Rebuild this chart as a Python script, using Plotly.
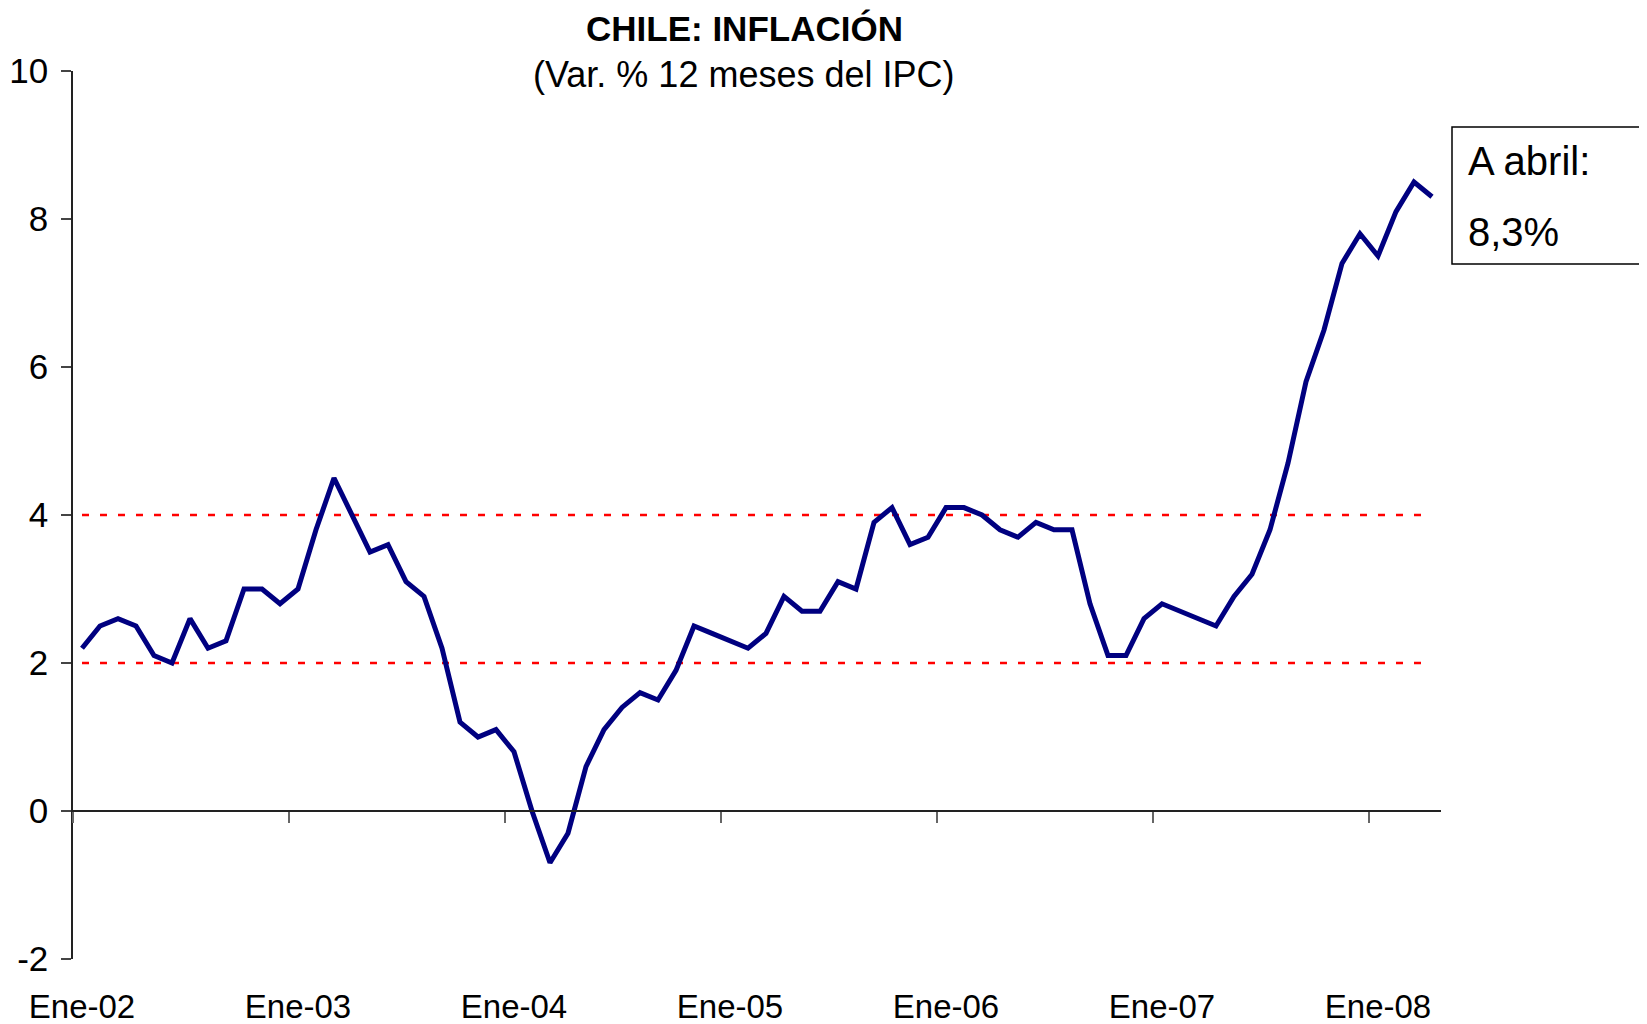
import plotly.graph_objects as go

# categorias mensuales Ene-02 .. Abr-08
meses = ['Ene', 'Feb', 'Mar', 'Abr', 'May', 'Jun', 'Jul', 'Ago', 'Sep', 'Oct', 'Nov', 'Dic']
anios = ['02', '03', '04', '05', '06', '07', '08']
meses_largo = ['enero', 'febrero', 'marzo', 'abril', 'mayo', 'junio', 'julio',
               'agosto', 'septiembre', 'octubre', 'noviembre', 'diciembre']

# Var. % 12 meses del IPC
ipc = [2.2, 2.5, 2.6, 2.5, 2.1, 2.0, 2.6, 2.2, 2.3, 3.0, 3.0, 2.8,
       3.0, 3.8, 4.5, 4.0, 3.5, 3.6, 3.1, 2.9, 2.2, 1.2, 1.0, 1.1,
       0.8, 0.0, -0.7, -0.3, 0.6, 1.1, 1.4, 1.6, 1.5, 1.9, 2.5, 2.4,
       2.3, 2.2, 2.4, 2.9, 2.7, 2.7, 3.1, 3.0, 3.9, 4.1, 3.6, 3.7,
       4.1, 4.1, 4.0, 3.8, 3.7, 3.9, 3.8, 3.8, 2.8, 2.1, 2.1, 2.6,
       2.8, 2.7, 2.6, 2.5, 2.9, 3.2, 3.8, 4.7, 5.8, 6.5, 7.4, 7.8,
       7.5, 8.1, 8.5, 8.3]

# rango meta del Banco Central
meta_inf = 2
meta_sup = 4

y_ticks = [-2, 0, 2, 4, 6, 8, 10]

etiquetas = [m + '-' + a for a in anios for m in meses][:len(ipc)]
x = list(range(len(ipc)))
ene_pos = [i for i, e in enumerate(etiquetas) if e.startswith('Ene')]
ene_txt = [etiquetas[i] for i in ene_pos]

FONT = 'Arial, Liberation Sans, sans-serif'

# plot area in page pixels (page body adds a small offset)
L, R, T, B = 73, 1441, 71, 959
OFF = 8

fig = go.Figure()
for meta in (meta_inf, meta_sup):
    fig.add_trace(go.Scatter(x=[x[0], x[-1]], y=[meta, meta], mode='lines',
                             line=dict(color='#ff0000', width=2.5, dash='7px,11px'),
                             hoverinfo='skip', showlegend=False))
fig.add_trace(go.Scatter(x=x, y=ipc, mode='lines', text=etiquetas, xaxis='x2',
                         line=dict(color='#000080', width=5),
                         hovertemplate='%{text}: %{y}<extra></extra>', showlegend=False))

ultimo = ipc[-1]
mes_ultimo = meses_largo[(len(ipc) - 1) % 12]

W = R - L
H = B - T


def px(xp):
    return (xp - L) / W


def py(yp):
    return (B - yp) / H


fig.update_layout(
    width=1647, height=1024,
    margin=dict(l=L - OFF, r=1647 - R + OFF, t=T - OFF, b=1024 - B + OFF),
    paper_bgcolor='white', plot_bgcolor='white',
    font=dict(family=FONT, color='black', size=35),
    xaxis=dict(range=[-0.5, len(ipc) - 0.5], anchor='free', position=2 / 12,
               showline=True, linecolor='#222', linewidth=1.5,
               tickmode='array', tickvals=[p - 0.5 for p in ene_pos],
               ticks='outside', ticklen=11, tickcolor='#666', tickwidth=1.5,
               showticklabels=False, showgrid=False, zeroline=False, automargin=False),
    xaxis2=dict(range=[-0.5, len(ipc) - 0.5], overlaying='x', anchor='y', side='bottom',
                showline=False, ticks='', tickmode='array', tickvals=ene_pos, ticktext=ene_txt,
                ticklabelstandoff=25, tickfont=dict(size=33),
                showgrid=False, zeroline=False, automargin=False),
    yaxis=dict(range=[-2, 10], tickmode='array', tickvals=y_ticks,
               ticktext=[str(v) for v in y_ticks],
               showline=True, linecolor='#222', linewidth=1.5,
               ticks='outside', ticklen=10, tickcolor='#444', tickwidth=1.5,
               ticklabelstandoff=6, tickfont=dict(size=35),
               showgrid=False, zeroline=False, automargin=False),
    shapes=[dict(type='rect', xref='paper', yref='paper',
                 x0=px(1452), x1=px(1670), y0=py(264), y1=py(127),
                 line=dict(color='black', width=1.5), fillcolor='white', layer='above')],
    annotations=[
        dict(text='<b>CHILE: INFLACIÓN</b>', xref='paper', yref='paper',
             x=px(744), y=py(28), xanchor='center', yanchor='middle',
             showarrow=False, font=dict(size=35)),
        dict(text='(Var. % 12 meses del IPC)', xref='paper', yref='paper',
             x=px(744), y=py(74), xanchor='center', yanchor='middle',
             showarrow=False, font=dict(size=36)),
        dict(text='A ' + mes_ultimo + ':', xref='paper', yref='paper',
             x=px(1466), y=py(161), xanchor='left', yanchor='middle',
             showarrow=False, font=dict(size=40)),
        dict(text=f'{ultimo:.1f}'.replace('.', ',') + '%', xref='paper', yref='paper',
             x=px(1466), y=py(232), xanchor='left', yanchor='middle',
             showarrow=False, font=dict(size=40)),
    ],
)

fig.write_html('out.html')
